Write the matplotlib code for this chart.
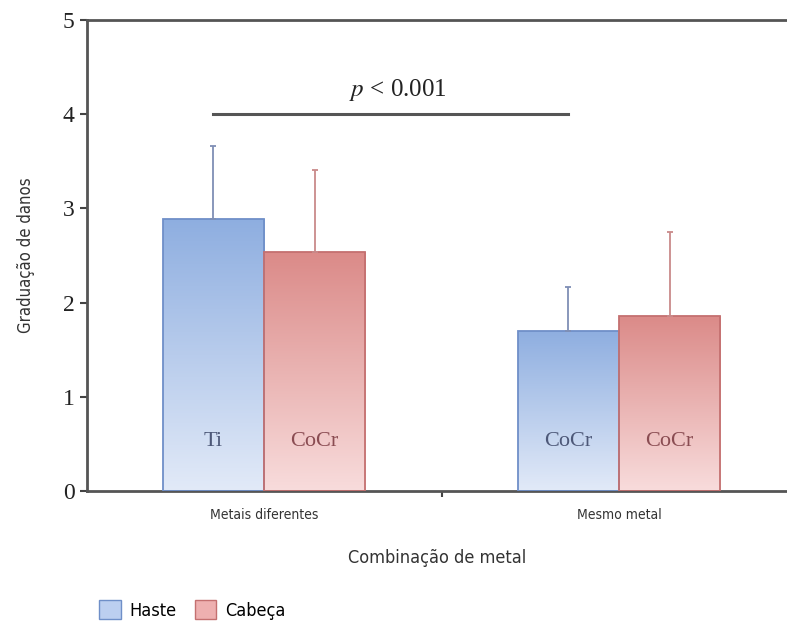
import matplotlib.pyplot as plt
import matplotlib.font_manager as fm
from matplotlib.colors import LinearSegmentedColormap
import numpy as np

groups = ['Metais diferentes', 'Mesmo metal']
series = ['Haste', 'Cabeça']
haste = [2.89, 1.70]
haste_err = [0.77, 0.47]
cabeca = [2.54, 1.86]
cabeca_err = [0.87, 0.89]
bar_text_haste = ['Ti', 'CoCr']
bar_text_cabeca = ['CoCr', 'CoCr']
p_text = '$\\mathit{p}$ < 0.001'

plt.rcParams['mathtext.fontset'] = 'stix'

names = {f.name for f in fm.fontManager.ttflist}
narrow = 'Liberation Sans Narrow' if 'Liberation Sans Narrow' in names else 'DejaVu Sans'
narrow_font = {'family': narrow, 'stretch': 'condensed'}
serif = 'Liberation Serif'

blue_map = LinearSegmentedColormap.from_list('b', ['#e2eaf8', '#8eaee0'])
red_map = LinearSegmentedColormap.from_list('r', ['#f8dcdc', '#db8a88'])

fig = plt.figure(figsize=(7.87, 6.36), dpi=100)
ax = fig.add_axes([0.1105, 0.228, 0.8895, 0.7406])

x = np.arange(len(groups))
w = 0.285


def grad_bars(xs, vals, cmap, edge):
    bars = ax.bar(xs, vals, w, facecolor='none', edgecolor=edge, linewidth=1.3, zorder=3)
    grad = np.linspace(0, 1, 256).reshape(-1, 1)
    for b in bars:
        x0 = b.get_x()
        im = ax.imshow(grad, cmap=cmap, aspect='auto', origin='lower',
                       extent=[x0, x0 + b.get_width(), 0, b.get_height()], zorder=2)
        im.set_clip_path(b)
    return bars


grad_bars(x - w / 2, haste, blue_map, '#6f8fc8')
grad_bars(x + w / 2, cabeca, red_map, '#c47070')

ax.errorbar(x - w / 2, haste, yerr=[np.zeros(2), haste_err], fmt='none',
            ecolor='#7f8fb5', elinewidth=1.3, capsize=2.5, capthick=1.3, zorder=4)
ax.errorbar(x + w / 2, cabeca, yerr=[np.zeros(2), cabeca_err], fmt='none',
            ecolor='#c98a8a', elinewidth=1.3, capsize=2.5, capthick=1.3, zorder=4)

for i in range(len(groups)):
    ax.text(x[i] - w / 2, 0.53, bar_text_haste[i], ha='center', va='center',
            fontsize=16, family=serif, color='#4d5878', zorder=5)
    ax.text(x[i] + w / 2, 0.53, bar_text_cabeca[i], ha='center', va='center',
            fontsize=16, family=serif, color='#8a4c52', zorder=5)

ax.plot([x[0] - w / 2, x[1] - w / 2], [4, 4], color='#555555', linewidth=2.2, zorder=4)
ax.text((x[0] - w / 2 + x[1] - w / 2) / 2 + 0.02, 4.12, p_text, ha='center', va='bottom',
        fontsize=18, family=serif, color='#222222')

ax.set_xlim(-0.4986, 1.473)
ax.set_ylim(0, 5)
ax.set_yticks(range(6))
ax.set_yticklabels([str(v) for v in range(6)], family=serif, fontsize=17, color='#222222')
ax.set_xticks(x)
ax.set_xticklabels(groups, fontsize=10, color='#333333', **narrow_font)
ax.tick_params(axis='x', length=0, pad=12)
ax.set_xticks([0.5], minor=True)
ax.tick_params(axis='x', which='minor', length=4, width=1.5, color='#444444', direction='out')
ax.tick_params(axis='y', length=5, width=1.5, color='#444444', pad=4)

for s in ['left', 'bottom', 'top']:
    ax.spines[s].set_linewidth(2)
    ax.spines[s].set_color('#555555')
ax.spines['right'].set_visible(False)

ax.set_ylabel('Graduação de danos', fontsize=12, color='#333333', labelpad=20, **narrow_font)
ax.set_xlabel('Combinação de metal', fontsize=13, color='#333333', labelpad=20, **narrow_font)

handles = [plt.Rectangle((0, 0), 1, 1, facecolor='#bccff0', edgecolor='#6f8fc8'),
           plt.Rectangle((0, 0), 1, 1, facecolor='#eeb0b0', edgecolor='#c47070')]
fig.legend(handles, series, loc='lower left', bbox_to_anchor=(0.105, 0.0), ncol=2,
           frameon=False, prop=dict(size=13, **narrow_font),
           handlelength=1.2, handleheight=1.2, columnspacing=1.0, handletextpad=0.5)

fig.savefig('out.png', dpi=100)
